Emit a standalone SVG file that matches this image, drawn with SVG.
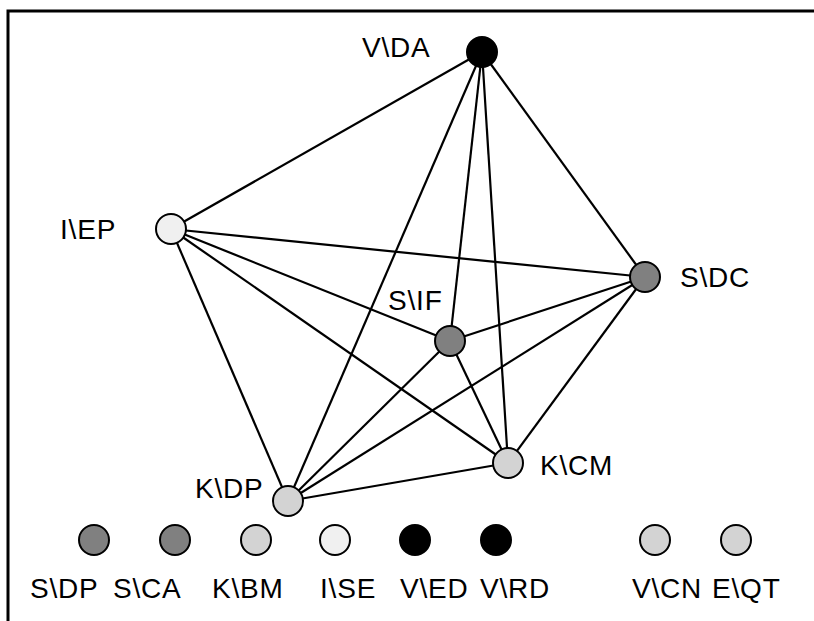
<svg xmlns="http://www.w3.org/2000/svg" width="814" height="621" viewBox="0 0 814 621">
<style>
.edge{stroke:#000;stroke-width:2.2;fill:none}
.node{stroke:#000;stroke-width:2}
.dark{fill:#808080}
.light{fill:#d3d3d3}
.pale{fill:#f0f0f0}
.black{fill:#000}
text{font-family:"Liberation Sans",Arial,sans-serif;font-size:28px;letter-spacing:0.8px;fill:#000}
</style>
<rect width="814" height="621" fill="#fff"/>
<path d="M8 621 V11 H814" stroke="#000" stroke-width="3" fill="none"/>
<g id="connectors">
<line class="edge" x1="482" y1="52" x2="171" y2="229"/>
<line class="edge" x1="482" y1="52" x2="645" y2="277"/>
<line class="edge" x1="482" y1="52" x2="450" y2="341"/>
<line class="edge" x1="482" y1="52" x2="508" y2="463"/>
<line class="edge" x1="482" y1="52" x2="288" y2="501"/>
<line class="edge" x1="171" y1="229" x2="645" y2="277"/>
<line class="edge" x1="171" y1="229" x2="450" y2="341"/>
<line class="edge" x1="171" y1="229" x2="508" y2="463"/>
<line class="edge" x1="171" y1="229" x2="288" y2="501"/>
<line class="edge" x1="645" y1="277" x2="450" y2="341"/>
<line class="edge" x1="645" y1="277" x2="508" y2="463"/>
<line class="edge" x1="645" y1="277" x2="288" y2="501"/>
<line class="edge" x1="450" y1="341" x2="508" y2="463"/>
<line class="edge" x1="450" y1="341" x2="288" y2="501"/>
<line class="edge" x1="508" y1="463" x2="288" y2="501"/>
</g>
<g id="VDA"><circle class="node black" cx="482" cy="52" r="15"/><text x="362" y="57">V\DA</text></g>
<g id="IEP"><circle class="node pale" cx="171" cy="229" r="15"/><text x="60" y="239">I\EP</text></g>
<g id="SDC"><circle class="node dark" cx="645" cy="277" r="15"/><text x="680" y="287">S\DC</text></g>
<g id="SIF"><circle class="node dark" cx="450" cy="341" r="15"/><text x="388" y="310">S\IF</text></g>
<g id="KCM"><circle class="node light" cx="508" cy="463" r="15"/><text x="540" y="475">K\CM</text></g>
<g id="KDP"><circle class="node light" cx="288" cy="501" r="15"/><text x="195" y="498">K\DP</text></g>
<g id="legend">
<circle class="node dark" cx="94" cy="540" r="15"/><text x="30" y="598">S\DP</text>
<circle class="node dark" cx="175" cy="540" r="15"/><text x="113" y="598">S\CA</text>
<circle class="node light" cx="256" cy="540" r="15"/><text x="212" y="598">K\BM</text>
<circle class="node pale" cx="335" cy="540" r="15"/><text x="320" y="598">I\SE</text>
<circle class="node black" cx="415" cy="540" r="15"/><text x="400" y="598">V\ED</text>
<circle class="node black" cx="496" cy="540" r="15"/><text x="480" y="598">V\RD</text>
<circle class="node light" cx="655" cy="540" r="15"/><text x="632" y="598">V\CN</text>
<circle class="node light" cx="736" cy="540" r="15"/><text x="712" y="598">E\QT</text>
</g>
</svg>
